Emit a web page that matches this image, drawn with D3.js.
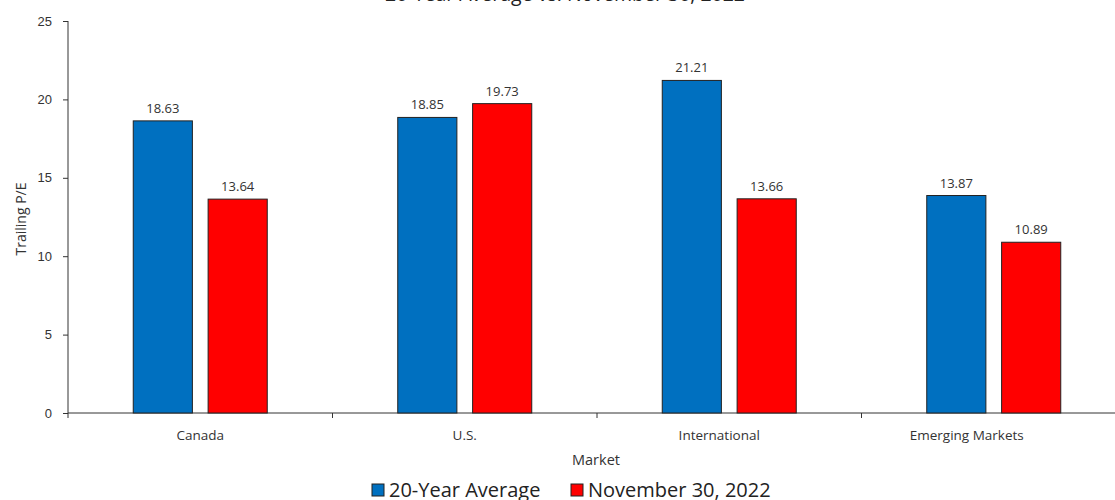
<!DOCTYPE html>
<meta charset="utf-8">
<style>
body {
  margin: 0;
  font-family: "Open Sans", "Noto Sans", sans-serif;
  background: #fff;
}
.axis text {
  font-size: 13px;
  fill: #333;
}
.axis path, .axis line {
  stroke: #333;
}
</style>
<body>
<script src="https://cdn.jsdelivr.net/npm/d3@7"></script>
<script>

var width = 1115,
    height = 500;

var markets = ["Canada", "U.S.", "International", "Emerging Markets"];
var seriesNames = ["20-Year Average", "November 30, 2022"];
var avg20 = [18.63, 18.85, 21.21, 13.87];
var nov2022 = [13.64, 19.73, 13.66, 10.89];
var yTicks = [0, 5, 10, 15, 20, 25];
var colors = ["#0070C0", "#FF0000"];

var margin = {left: 68, top: 21, bottom: 87};
// category labels near the clipped right edge sit a bit left of their band
var labelShift = [0, 0, -10, -27];

var x = d3.scaleBand()
    .domain(markets)
    .range([margin.left, 1126]);

var x1 = d3.scaleBand()
    .domain(seriesNames)
    .range([0, 134])
    .paddingInner(0.21);

var y = d3.scaleLinear()
    .domain([0, 25])
    .range([height - margin.bottom, margin.top]);

var svg = d3.select("body").append("svg")
    .attr("width", width)
    .attr("height", height);

// title (sits partly above the top edge)
svg.append("text")
    .attr("x", 565)
    .attr("y", 1)
    .attr("text-anchor", "middle")
    .style("font-size", "19.5px")
    .style("fill", "#222")
    .text("20-Year Average vs. November 30, 2022");

// axes
svg.append("g")
    .attr("class", "axis")
    .attr("transform", "translate(" + margin.left + ",0)")
    .call(d3.axisLeft(y).tickValues(yTicks).tickSize(5).tickPadding(11))
    .call(function(g) { g.select(".domain").attr("d", "M0," + y(0) + "V" + y(25)); });

var xAxis = svg.append("g")
    .attr("class", "axis")
    .attr("transform", "translate(0," + y(0) + ")");

xAxis.append("line")
    .attr("x1", margin.left).attr("x2", width)
    .attr("stroke", "#333");

xAxis.selectAll(".sep")
    .data(d3.range(markets.length + 1))
  .enter().append("line")
    .attr("class", "sep")
    .attr("x1", function(i) { return margin.left + i * x.step(); })
    .attr("x2", function(i) { return margin.left + i * x.step(); })
    .attr("y1", 0).attr("y2", 5)
    .attr("stroke", "#333");

xAxis.selectAll(".cat")
    .data(markets)
  .enter().append("text")
    .attr("class", "cat")
    .attr("x", function(d, i) { return x(d) + x.bandwidth() / 2 + labelShift[i]; })
    .attr("y", 27)
    .attr("text-anchor", "middle")
    .style("font-size", "13.5px")
    .text(function(d) { return d; });

svg.append("text")
    .attr("x", 596)
    .attr("y", 465)
    .attr("text-anchor", "middle")
    .style("font-size", "14.5px")
    .style("fill", "#333")
    .text("Market");

svg.append("text")
    .attr("transform", "translate(26,219) rotate(-90)")
    .attr("text-anchor", "middle")
    .style("font-size", "14px")
    .style("fill", "#333")
    .text("Trailing P/E");

// bars
var rows = markets.map(function(m, i) {
  return {market: m, values: [avg20[i], nov2022[i]]};
});

var groups = svg.selectAll(".grp")
    .data(rows)
  .enter().append("g")
    .attr("class", "grp")
    .attr("transform", function(d) { return "translate(" + (x(d.market) + x.bandwidth() / 2 - 67) + ",0)"; });

var cells = groups.selectAll(".bar")
    .data(function(d) { return d.values.map(function(v, j) { return {s: seriesNames[j], v: v, j: j}; }); })
  .enter();

cells.append("rect")
    .attr("class", "bar")
    .attr("x", function(d) { return x1(d.s); })
    .attr("y", function(d) { return y(d.v); })
    .attr("width", x1.bandwidth())
    .attr("height", function(d) { return y(0) - y(d.v); })
    .attr("fill", function(d) { return colors[d.j]; })
    .attr("stroke", "#222")
    .attr("stroke-width", 1);

cells.append("text")
    .attr("x", function(d) { return x1(d.s) + x1.bandwidth() / 2; })
    .attr("y", function(d) { return y(d.v) - 8; })
    .attr("text-anchor", "middle")
    .style("font-size", "13px")
    .style("fill", "#333")
    .text(function(d) { return d.v.toFixed(2); });

// legend
var legendX = [372, 571];
var legend = svg.selectAll(".leg")
    .data(seriesNames)
  .enter().append("g")
    .attr("class", "leg")
    .attr("transform", function(d, i) { return "translate(" + legendX[i] + ",484)"; });

legend.append("rect")
    .attr("width", 12).attr("height", 12)
    .attr("fill", function(d, i) { return colors[i]; })
    .attr("stroke", "#222");

legend.append("text")
    .attr("x", 17)
    .attr("y", 13)
    .style("font-size", "20px")
    .style("fill", "#222")
    .text(function(d) { return d; });

</script>
